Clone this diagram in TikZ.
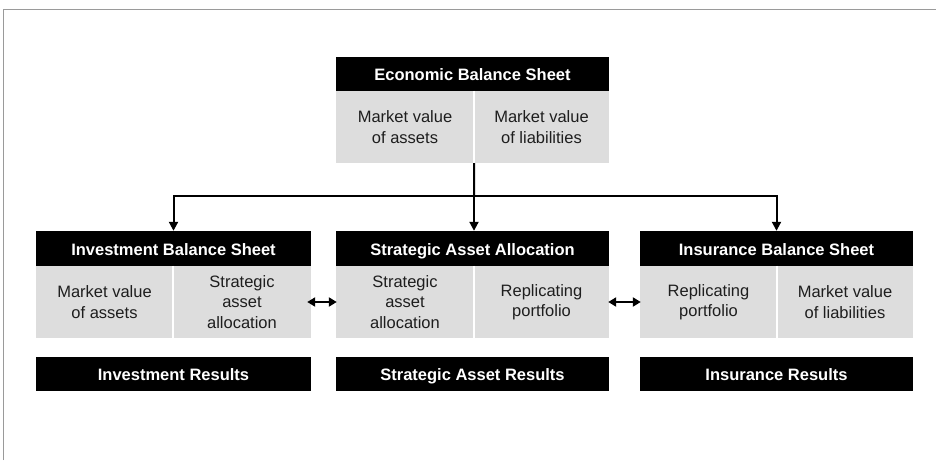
\documentclass[tikz,border=0pt]{standalone}
\usepackage{fontspec}
\setmainfont{Liberation Sans}
\usetikzlibrary{arrows.meta}
\definecolor{cellgray}{HTML}{DDDDDD}
\definecolor{ink}{HTML}{1E1E1E}
\definecolor{framegray}{HTML}{9A9A9A}
\begin{document}
\begin{tikzpicture}[x=1pt,y=-1pt,
  hdr/.style={fill=black,text=white,font=\fontsize{16.5}{18}\selectfont\bfseries,
    inner sep=0pt,minimum height=34pt,text height=13pt,text depth=0pt},
  cell/.style={fill=cellgray,text=ink,font=\fontsize{16.5}{20.5}\selectfont,
    align=center,inner sep=0pt,minimum height=72pt},
  divider/.style={white,line width=1.5pt},
  link/.style={line width=2pt,black},
  tip/.style={-{Triangle[length=9pt,width=9pt]}},
  both/.style={{Triangle[length=8pt,width=9pt]}-{Triangle[length=8pt,width=9pt]}}
]
\useasboundingbox (0,0) rectangle (936,460);
% outer frame (top and left edges)
\draw[framegray,line width=1pt] (3.5,460) -- (3.5,9.5) -- (936,9.5);

% Economic balance sheet
\node[hdr,minimum width=273pt] (eh) at (472.5,74) {Economic Balance Sheet};
\node[cell,minimum width=138pt] (eL) at (405,127) {Market value\\of assets};
\node[cell,minimum width=135pt] (eR) at (541.5,127) {Market value\\of liabilities};
\draw[divider] (eL.north east) -- (eL.south east);

% Investment balance sheet
\node[hdr,minimum width=275pt,minimum height=35pt] (ih) at (173.5,248.5) {Investment Balance Sheet};
\node[cell,minimum width=137pt] (iL) at (104.5,302) {Market value\\of assets};
\node[cell,minimum width=138pt] (iR) at (242,302) {Strategic\\asset\\allocation};
\draw[divider] (iL.north east) -- (iL.south east);
\node[hdr,minimum width=275pt] (ir) at (173.5,374) {Investment Results};

% Strategic asset allocation
\node[hdr,minimum width=273pt,minimum height=35pt] (ch) at (472.5,248.5) {Strategic Asset Allocation};
\node[cell,minimum width=138pt] (cL) at (405,302) {Strategic\\asset\\allocation};
\node[cell,minimum width=135pt] (cR) at (541.5,302) {Replicating\\portfolio};
\draw[divider] (cL.north east) -- (cL.south east);
\node[hdr,minimum width=273pt] (cr) at (472.5,374) {Strategic Asset Results};

% Insurance balance sheet
\node[hdr,minimum width=273pt,minimum height=35pt] (sh) at (776.5,248.5) {Insurance Balance Sheet};
\node[cell,minimum width=137pt] (sL) at (708.5,302) {Replicating\\portfolio};
\node[cell,minimum width=136pt] (sR) at (845,302) {Market value\\of liabilities};
\draw[divider] (sL.north east) -- (sL.south east);
\node[hdr,minimum width=273pt] (sr) at (776.5,374) {Insurance Results};

% distribution from the economic balance sheet
\coordinate (hub) at (474,196);
\draw[link] (eL.south east) -- (hub);
\draw[link,tip] (hub) -| (ih.north);
\draw[link,tip] (hub) -- (hub |- ch.north);
\draw[link,tip] (hub) -| (sh.north);

% links between the sheets
\draw[link,both] ([xshift=-4pt]iR.east) -- ([xshift=1pt]cL.west);
\draw[link,both] ([xshift=-1pt]cR.east) -- ([xshift=1pt]sL.west);
\end{tikzpicture}
\end{document}
